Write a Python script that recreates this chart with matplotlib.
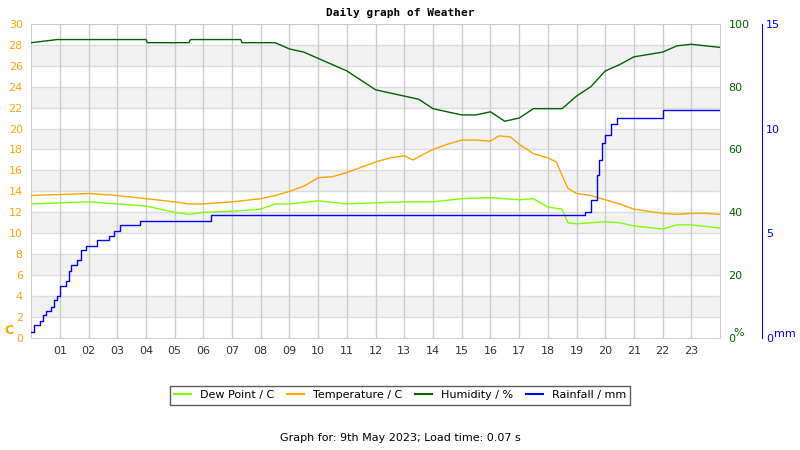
import matplotlib
matplotlib.use('Agg')
import matplotlib.pyplot as plt
from matplotlib.lines import Line2D

# Temperature (C)
temp_hours = [0, 1, 2, 3, 4, 5, 5.5, 6, 7, 8, 8.5, 9, 9.5, 10, 10.5, 11, 11.5, 12, 12.5, 13, 13.3,
              13.5, 14, 14.5, 15, 15.5, 16, 16.3, 16.7, 17, 17.5, 18, 18.3, 18.5, 18.7, 19, 19.5,
              20, 20.5, 21, 21.5, 22, 22.5, 23, 23.5, 24]
temp_vals = [13.6, 13.7, 13.8, 13.6, 13.3, 13.0, 12.8, 12.8, 13.0, 13.3, 13.6, 14.0, 14.5, 15.3, 15.4,
             15.8, 16.3, 16.8, 17.2, 17.4, 17.0, 17.3, 18.0, 18.5, 18.9, 18.9, 18.8, 19.3, 19.2, 18.5,
             17.6, 17.2, 16.8, 15.5, 14.3, 13.8, 13.6, 13.2, 12.8, 12.3, 12.1, 11.9, 11.8, 11.9, 11.9, 11.8]

# Dew point (C)
dew_hours = [0, 1, 2, 3, 4, 5, 5.5, 6, 7, 8, 8.5, 9, 10, 11, 12, 13, 14, 15, 16, 17, 17.5, 18,
             18.5, 18.7, 19, 20, 20.5, 21, 22, 22.5, 23, 24]
dew_vals = [12.8, 12.9, 13.0, 12.8, 12.6, 12.0, 11.8, 12.0, 12.1, 12.3, 12.8, 12.8, 13.1, 12.8, 12.9,
            13.0, 13.0, 13.3, 13.4, 13.2, 13.3, 12.5, 12.3, 11.0, 10.9, 11.1, 11.0, 10.7, 10.4, 10.8,
            10.8, 10.5]

# Humidity (%)
hum_hours = [0, 0.9, 4.0, 4.05, 5.5, 5.55, 7.3, 7.35, 8.5, 9, 9.5, 10, 10.5, 11, 11.5, 12, 12.5, 13,
             13.5, 14, 14.5, 15, 15.5, 16, 16.5, 17, 17.5, 18, 18.5, 19, 19.5, 20, 20.5, 21, 22,
             22.5, 23, 23.5, 24]
hum_vals = [94, 95, 95, 94, 94, 95, 95, 94, 94, 92, 91, 89, 87, 85, 82, 79, 78, 77, 76, 73, 72, 71,
            71, 72, 69, 70, 73, 73, 73, 77, 80, 85, 87, 89.5, 91, 93, 93.5, 93, 92.5]

# Rainfall (mm, cumulative)
rain_hours = [0, 0.1, 0.3, 0.4, 0.5, 0.7, 0.8, 0.9, 1.0, 1.2, 1.3, 1.4, 1.6, 1.75, 1.9, 2.3, 2.7,
              2.9, 3.1, 3.8, 6.25, 19.3, 19.5, 19.7, 19.8, 19.9, 20.0, 20.2, 20.4, 22.0, 24]
rain_vals = [0.3, 0.6, 0.8, 1.1, 1.3, 1.5, 1.8, 2.0, 2.5, 2.7, 3.2, 3.5, 3.7, 4.2, 4.4, 4.7, 4.85,
             5.1, 5.4, 5.6, 5.85, 6.0, 6.6, 7.8, 8.5, 9.3, 9.7, 10.2, 10.5, 10.9, 10.9]

hour_labels = ['%02d' % h for h in range(1, 24)]

ORANGE = '#ffa500'
GREEN = '#006400'
LIME = '#7fff00'
BLUE = '#0000ff'
plt.rcParams['font.family'] = 'DejaVu Sans'
plt.rcParams['font.size'] = 8

fig = plt.figure(figsize=(8, 4.5), dpi=100)
ax = fig.add_axes([0.039, 0.249, 0.861, 0.698])

# alternating background bands
for lo in range(2, 30, 4):
    ax.axhspan(lo, lo + 2, color='#f2f2f2', zorder=0, lw=0)
for y in range(2, 30, 2):
    ax.axhline(y, color='#dddddd', lw=1, zorder=1)
for h in range(1, 24):
    ax.axvline(h, color='#cccccc', lw=1, zorder=1)

ax.plot(dew_hours, dew_vals, color=LIME, lw=1, zorder=3)
ax.plot(temp_hours, temp_vals, color=ORANGE, lw=1, zorder=3)
ax.set_xlim(0, 24)
ax.set_ylim(0, 30)
ax.set_yticks(range(0, 31, 2))
ax.tick_params(axis='y', colors=ORANGE, length=0, pad=6)
ax.set_xticks(range(1, 24))
ax.set_xticklabels(hour_labels)
ax.tick_params(axis='x', colors='#333333', length=0, pad=6)
for s in ax.spines.values():
    s.set_color('#cccccc')
fig.text(0.006, 0.25, 'C', color=ORANGE, fontsize=9, fontweight='bold', va='bottom')

axh = ax.twinx()
axh.plot(hum_hours, hum_vals, color=GREEN, lw=1, zorder=4)
axh.set_ylim(0, 100)
axh.set_yticks(range(0, 101, 20))
axh.tick_params(axis='y', colors=GREEN, length=0, pad=6)
for s in axh.spines.values():
    s.set_visible(False)
fig.text(0.917, 0.25, '%', color=GREEN, fontsize=8, va='bottom')

axr = ax.twinx()
axr.plot(rain_hours, rain_vals, color=BLUE, lw=1, drawstyle='steps-post', zorder=5)
axr.set_ylim(0, 15)
axr.set_yticks([0, 5, 10, 15])
for s in axr.spines.values():
    s.set_visible(False)
axr.spines['right'].set_visible(True)
axr.spines['right'].set_position(('axes', 1.061))
axr.spines['right'].set_color(BLUE)
axr.tick_params(axis='y', colors=BLUE, length=0, pad=3)
fig.text(0.968, 0.247, 'mm', color=BLUE, fontsize=8, va='bottom')

fig.text(0.5, 0.972, 'Daily graph of Weather', ha='center', va='center',
         family='DejaVu Sans Mono', fontweight='bold', fontsize=8)

handles = [Line2D([], [], color=LIME), Line2D([], [], color=ORANGE),
           Line2D([], [], color=GREEN), Line2D([], [], color=BLUE)]
labels = ['Dew Point / C', 'Temperature / C', 'Humidity / %', 'Rainfall / mm']
fig.legend(handles, labels, loc='center', bbox_to_anchor=(0.5, 0.122), ncol=4,
           frameon=True, fancybox=False, edgecolor='#333333', fontsize=8,
           handlelength=1.5, columnspacing=1.2, borderpad=0.4)

fig.text(0.5, 0.027, 'Graph for: 9th May 2023; Load time: 0.07 s', ha='center',
         va='center', fontsize=8)

fig.savefig('out.png', dpi=100)
